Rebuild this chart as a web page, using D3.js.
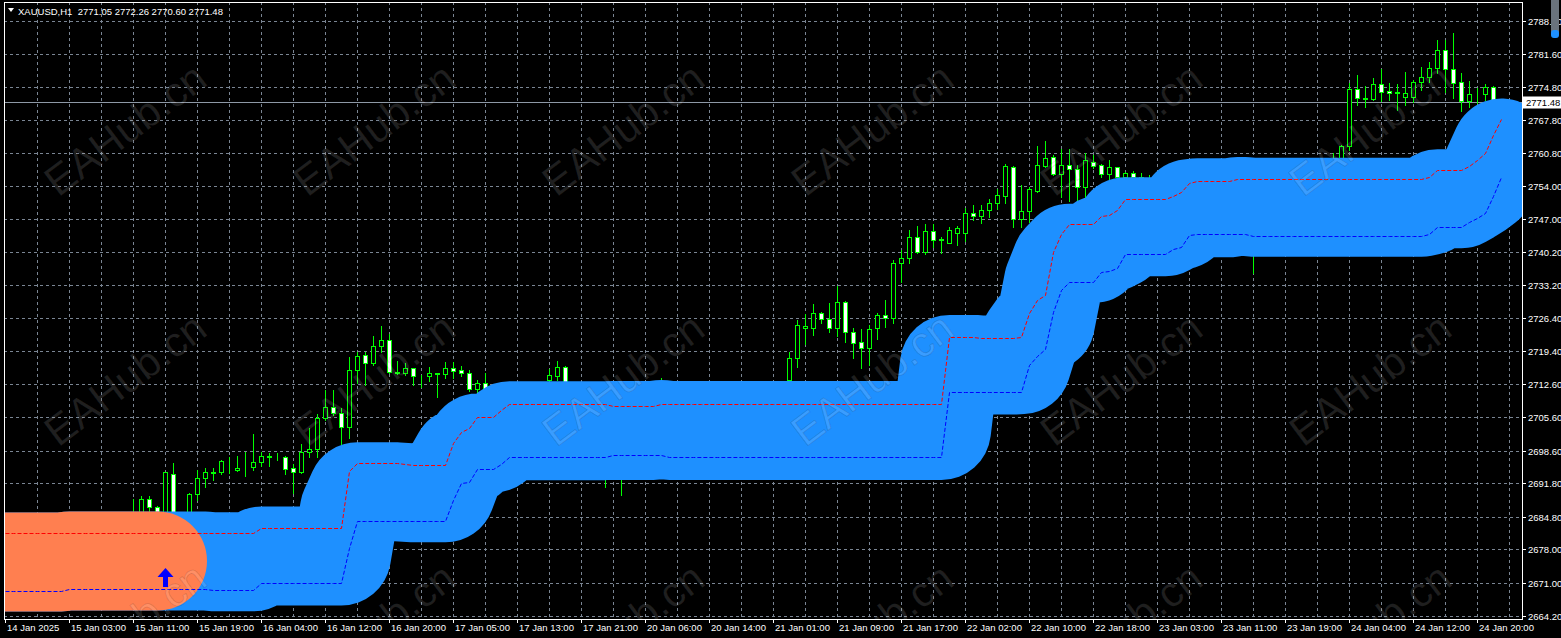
<!DOCTYPE html>
<html>
<head>
<meta charset="utf-8">
<script src="https://cdn.jsdelivr.net/npm/d3@7"></script>
<style>
  html, body { margin: 0; padding: 0; background: #000; overflow: hidden; }
  svg { display: block; }
  text { font-family: "Liberation Sans", Arial, sans-serif; }
</style>
</head>
<body>
<svg id="chart" width="1561" height="638"></svg>
<script>
// ---- data (XAUUSD H1) ----
const symbol = "XAUUSD,H1";
const lastQuote = [2771.05, 2772.26, 2770.60, 2771.48]; // O H L C of current bar
const currentPrice = 2771.48;

const opens = [
  2680.2, 2680.5, 2679.8, 2681.2, 2680.0, 2678.5, 2679.6, 2681.0, 2682.3, 2681.5, 2682.8, 2683.5, 2682.0, 2683.2, 2684.0, 2683.1,
  2684.4, 2685.6, 2688.6, 2686.8, 2684.9, 2693.8, 2685.0, 2684.6, 2689.5, 2692.9, 2694.2, 2694.2, 2696.5, 2694.6, 2695.0, 2695.3,
  2696.3, 2697.5, 2697.3, 2697.4, 2695.0, 2694.2, 2698.4, 2699.0, 2705.5, 2707.8, 2706.5, 2703.6, 2715.5, 2718.6, 2717.0, 2720.5,
  2721.8, 2715.1, 2715.0, 2715.9, 2714.3, 2714.3, 2714.8, 2714.6, 2715.9, 2715.5, 2714.8, 2711.6, 2712.8, 2710.5, 2708.2, 2709.5,
  2710.6, 2711.8, 2710.8, 2712.0, 2713.4, 2714.3, 2716.2, 2711.0, 2709.2, 2706.8, 2704.2, 2701.5, 2697.0, 2698.6, 2696.2, 2699.9,
  2702.7, 2705.1, 2707.6, 2709.8, 2708.4, 2707.0, 2708.1, 2709.9, 2708.8, 2706.7, 2707.6, 2708.9, 2710.2, 2709.4, 2710.7, 2711.9,
  2711.2, 2712.3, 2713.4, 2718.0, 2724.3, 2724.3, 2727.4, 2726.2, 2724.3, 2729.7, 2723.5, 2721.4, 2720.1, 2724.3, 2727.0, 2726.4,
  2737.9, 2738.9, 2743.3, 2740.2, 2744.6, 2742.7, 2742.1, 2744.2, 2744.2, 2748.4, 2747.8, 2749.0, 2750.4, 2752.0, 2758.0, 2747.1,
  2748.8, 2753.0, 2758.2, 2760.0, 2756.5, 2758.4, 2757.6, 2753.8, 2759.0, 2758.4, 2756.5, 2758.0, 2755.9, 2756.7, 2755.9, 2755.2,
  2752.8, 2751.4, 2752.5, 2753.9, 2752.9, 2751.2, 2749.3, 2747.7, 2748.4, 2749.6, 2748.5, 2745.9, 2743.6, 2744.6, 2746.3, 2747.8,
  2749.5, 2750.9, 2751.6, 2753.2, 2754.5, 2755.8, 2756.2, 2758.0, 2762.4, 2774.3, 2772.4, 2772.2, 2775.3, 2773.9, 2773.6, 2772.6,
  2772.6, 2775.7, 2776.8, 2778.7, 2782.4, 2778.5, 2775.7, 2771.8, 2773.2, 2773.2, 2774.7, 2771.05
];
const highs = [
  2681.4, 2681.0, 2682.0, 2681.9, 2680.6, 2680.3, 2681.8, 2683.1, 2682.9, 2683.6, 2684.2, 2684.0, 2683.9, 2684.8, 2684.6, 2685.1,
  2688.6, 2689.2, 2689.2, 2687.0, 2694.3, 2696.1, 2685.5, 2689.9, 2694.6, 2695.0, 2695.0, 2696.7, 2697.3, 2697.5, 2698.4, 2702.1,
  2698.4, 2698.2, 2698.2, 2697.6, 2695.9, 2700.1, 2703.4, 2706.3, 2711.3, 2711.3, 2707.6, 2718.2, 2719.3, 2719.3, 2722.6, 2724.7,
  2723.0, 2717.4, 2717.0, 2715.9, 2714.5, 2716.2, 2714.9, 2717.2, 2717.2, 2716.4, 2715.5, 2713.4, 2715.0, 2712.0, 2710.0, 2711.2,
  2712.5, 2712.8, 2712.6, 2713.1, 2715.7, 2717.4, 2716.4, 2712.4, 2710.5, 2708.0, 2705.6, 2702.4, 2699.8, 2700.2, 2700.8, 2703.5,
  2706.0, 2708.4, 2713.8, 2712.0, 2710.1, 2708.8, 2710.6, 2711.5, 2709.9, 2708.3, 2709.7, 2710.8, 2711.9, 2711.2, 2712.6, 2712.9,
  2712.7, 2713.1, 2719.3, 2726.0, 2727.2, 2729.3, 2727.7, 2729.5, 2733.1, 2729.9, 2724.3, 2724.1, 2724.9, 2727.4, 2730.2, 2738.5,
  2740.6, 2744.8, 2745.6, 2746.1, 2746.1, 2743.3, 2745.4, 2745.6, 2749.4, 2750.0, 2750.0, 2751.3, 2753.4, 2758.6, 2758.2, 2754.2,
  2753.8, 2762.4, 2763.4, 2760.5, 2761.7, 2761.7, 2758.4, 2760.9, 2760.5, 2758.6, 2759.4, 2758.0, 2756.9, 2757.1, 2756.7, 2756.4,
  2754.0, 2753.2, 2754.6, 2755.3, 2754.0, 2752.4, 2750.5, 2749.0, 2750.1, 2751.0, 2749.6, 2747.3, 2745.4, 2747.0, 2748.6, 2750.2,
  2751.8, 2752.7, 2754.0, 2755.1, 2756.3, 2756.9, 2760.9, 2762.6, 2775.5, 2777.2, 2774.9, 2776.6, 2778.5, 2775.5, 2775.3, 2777.8,
  2776.2, 2778.9, 2779.9, 2784.5, 2784.5, 2786.0, 2777.6, 2775.9, 2774.5, 2775.3, 2774.9, 2772.26
];
const lows = [
  2678.9, 2678.6, 2679.1, 2679.3, 2677.4, 2677.9, 2679.0, 2680.4, 2680.7, 2681.0, 2682.1, 2681.4, 2681.6, 2682.7, 2682.4, 2682.8,
  2683.0, 2684.8, 2685.5, 2683.5, 2683.8, 2684.0, 2682.0, 2683.5, 2688.3, 2691.1, 2692.5, 2693.8, 2693.9, 2694.4, 2693.3, 2694.6,
  2695.5, 2695.5, 2696.7, 2693.8, 2689.8, 2694.0, 2697.3, 2697.3, 2705.1, 2706.1, 2700.1, 2701.3, 2712.8, 2712.4, 2716.6, 2719.3,
  2714.9, 2714.7, 2714.5, 2712.4, 2712.0, 2713.2, 2709.9, 2713.9, 2713.9, 2714.2, 2711.1, 2710.7, 2709.0, 2707.5, 2706.8, 2708.0,
  2709.4, 2710.0, 2709.6, 2710.9, 2712.5, 2713.5, 2710.2, 2708.6, 2706.0, 2703.5, 2700.8, 2691.1, 2694.5, 2689.4, 2695.0, 2698.6,
  2701.5, 2704.0, 2706.2, 2707.9, 2706.5, 2705.2, 2707.3, 2708.2, 2705.9, 2705.0, 2706.4, 2707.7, 2709.0, 2708.1, 2709.8, 2710.6,
  2710.1, 2711.4, 2712.0, 2716.2, 2721.0, 2722.8, 2725.4, 2723.5, 2722.6, 2721.4, 2718.0, 2715.9, 2716.6, 2722.0, 2724.5, 2725.4,
  2733.9, 2737.9, 2740.0, 2739.8, 2741.2, 2740.0, 2742.0, 2741.7, 2742.5, 2746.9, 2746.3, 2747.5, 2749.2, 2750.4, 2745.4, 2745.4,
  2746.5, 2752.7, 2758.0, 2756.3, 2751.7, 2750.9, 2751.1, 2751.7, 2757.8, 2755.9, 2755.5, 2755.5, 2754.5, 2754.0, 2753.5, 2752.0,
  2750.6, 2749.8, 2751.6, 2752.2, 2750.5, 2748.6, 2746.8, 2745.5, 2747.2, 2747.9, 2745.0, 2742.8, 2735.8, 2743.5, 2745.1, 2746.9,
  2748.4, 2749.6, 2750.8, 2752.1, 2753.4, 2754.6, 2755.0, 2756.8, 2761.5, 2770.9, 2770.5, 2771.9, 2771.8, 2772.0, 2769.9, 2770.9,
  2771.6, 2774.1, 2775.7, 2777.6, 2773.7, 2772.4, 2769.7, 2770.5, 2771.3, 2772.0, 2770.8, 2770.60
];
const closes = [
  2680.5, 2679.8, 2681.2, 2680.0, 2678.5, 2679.6, 2681.0, 2682.3, 2681.5, 2682.8, 2683.5, 2682.0, 2683.2, 2684.0, 2683.1, 2684.4,
  2685.6, 2688.6, 2686.8, 2684.9, 2694.1, 2685.0, 2684.6, 2689.5, 2692.9, 2694.2, 2694.0, 2696.5, 2696.5, 2695.0, 2695.1, 2696.3,
  2697.5, 2697.3, 2697.4, 2694.8, 2694.2, 2698.4, 2699.0, 2705.5, 2707.8, 2706.5, 2703.6, 2715.5, 2718.4, 2717.0, 2720.5, 2721.8,
  2715.1, 2715.0, 2715.9, 2714.3, 2714.3, 2714.8, 2714.6, 2715.9, 2715.3, 2714.8, 2711.6, 2712.8, 2710.5, 2708.2, 2709.5, 2710.6,
  2711.8, 2710.8, 2712.0, 2713.0, 2714.5, 2716.2, 2711.0, 2709.2, 2706.8, 2704.2, 2701.5, 2697.0, 2698.6, 2696.2, 2699.9, 2702.7,
  2705.1, 2707.6, 2709.8, 2708.4, 2707.0, 2708.1, 2709.9, 2708.8, 2706.7, 2707.6, 2708.9, 2710.2, 2709.4, 2710.7, 2711.9, 2711.2,
  2712.3, 2712.9, 2718.0, 2724.9, 2724.8, 2727.4, 2726.2, 2724.3, 2729.7, 2723.5, 2721.2, 2720.1, 2724.1, 2727.0, 2726.4, 2737.9,
  2738.9, 2743.3, 2740.2, 2744.6, 2742.7, 2742.9, 2744.8, 2745.2, 2748.4, 2747.8, 2749.0, 2750.4, 2752.1, 2758.2, 2747.1, 2748.8,
  2753.4, 2758.4, 2759.9, 2756.5, 2758.4, 2757.6, 2753.8, 2759.4, 2758.2, 2756.5, 2758.0, 2755.9, 2756.7, 2755.9, 2755.2, 2752.8,
  2751.4, 2752.5, 2753.9, 2752.9, 2751.2, 2749.3, 2747.7, 2748.4, 2749.6, 2748.5, 2745.9, 2743.6, 2744.6, 2746.3, 2747.8, 2749.5,
  2750.9, 2751.6, 2753.2, 2754.5, 2755.8, 2756.2, 2758.0, 2762.4, 2774.3, 2772.4, 2772.2, 2775.3, 2773.7, 2773.4, 2773.5, 2773.4,
  2775.7, 2776.8, 2778.7, 2782.4, 2778.5, 2775.5, 2771.8, 2773.2, 2773.3, 2774.7, 2771.1, 2771.48
];

// channel indicator: upper (red dashed) and lower (blue dashed) lines
const upperLine = [
  2681.4, 2681.4, 2681.4, 2681.4, 2681.4, 2681.4, 2681.4, 2681.4, 2681.4, 2681.4, 2681.4, 2681.4, 2681.4, 2681.4, 2681.4, 2681.4,
  2681.4, 2681.4, 2681.4, 2681.4, 2681.4, 2681.4, 2681.4, 2681.4, 2681.4, 2681.4, 2681.4, 2681.4, 2681.4, 2681.4, 2681.4, 2681.4,
  2682.4, 2682.4, 2682.4, 2682.4, 2682.4, 2682.4, 2682.4, 2682.4, 2682.4, 2682.4, 2682.4, 2694.4, 2696.1, 2696.1, 2696.1, 2696.1,
  2696.1, 2696.1, 2695.9, 2695.7, 2695.7, 2695.7, 2695.7, 2695.7, 2700.3, 2702.6, 2703.4, 2705.7, 2705.7, 2705.7, 2707.2, 2708.4,
  2708.4, 2708.4, 2708.4, 2708.4, 2708.4, 2708.4, 2708.4, 2708.4, 2708.4, 2708.4, 2708.4, 2708.4, 2708.1, 2708.1, 2708.1, 2708.1,
  2708.1, 2708.1, 2708.5, 2708.5, 2708.5, 2708.5, 2708.5, 2708.5, 2708.5, 2708.5, 2708.5, 2708.5, 2708.5, 2708.5, 2708.5, 2708.5,
  2708.5, 2708.5, 2708.5, 2708.5, 2708.5, 2708.5, 2708.5, 2708.5, 2708.5, 2708.5, 2708.5, 2708.5, 2708.5, 2708.5, 2708.5, 2708.5,
  2708.5, 2708.5, 2708.5, 2708.5, 2708.5, 2708.5, 2722.5, 2722.5, 2722.5, 2722.5, 2722.2, 2722.2, 2722.2, 2722.2, 2722.2, 2722.4,
  2727.4, 2730.2, 2731.2, 2740.2, 2744.0, 2746.0, 2746.0, 2746.0, 2746.0, 2747.7, 2748.0, 2749.0, 2751.3, 2751.3, 2751.3, 2751.3,
  2751.3, 2751.3, 2752.0, 2752.7, 2754.7, 2755.0, 2755.0, 2755.0, 2755.0, 2755.0, 2755.5, 2755.5, 2755.5, 2755.5, 2755.5, 2755.5,
  2755.5, 2755.5, 2755.5, 2755.5, 2755.5, 2755.5, 2755.5, 2755.5, 2755.5, 2755.5, 2755.5, 2755.5, 2755.5, 2755.5, 2755.5, 2755.5,
  2755.5, 2755.5, 2755.8, 2757.3, 2757.3, 2757.3, 2757.3, 2758.2, 2759.4, 2760.8, 2764.7, 2768.0
];
const lowerLine = [
  2669.4, 2669.4, 2669.4, 2669.4, 2669.4, 2669.4, 2669.4, 2669.4, 2669.8, 2669.8, 2669.8, 2669.8, 2669.8, 2669.8, 2669.8, 2669.8,
  2669.8, 2669.8, 2669.8, 2669.8, 2669.8, 2669.8, 2669.8, 2669.8, 2669.8, 2669.8, 2669.5, 2669.5, 2669.5, 2669.5, 2669.5, 2669.5,
  2670.9, 2670.9, 2670.9, 2670.9, 2670.9, 2670.9, 2670.9, 2670.9, 2670.9, 2670.9, 2670.9, 2678.3, 2684.0, 2684.0, 2684.0, 2684.0,
  2684.0, 2684.0, 2684.0, 2684.0, 2684.0, 2684.0, 2684.0, 2684.0, 2688.3, 2691.9, 2692.1, 2694.8, 2694.8, 2694.8, 2695.9, 2697.3,
  2697.3, 2697.3, 2697.3, 2697.3, 2697.3, 2697.3, 2697.3, 2697.3, 2697.3, 2697.3, 2697.3, 2697.3, 2697.7, 2697.7, 2697.7, 2697.7,
  2697.7, 2697.7, 2697.7, 2697.3, 2697.3, 2697.3, 2697.3, 2697.3, 2697.3, 2697.3, 2697.3, 2697.3, 2697.3, 2697.3, 2697.3, 2697.3,
  2697.3, 2697.3, 2697.3, 2697.3, 2697.3, 2697.3, 2697.3, 2697.3, 2697.3, 2697.3, 2697.3, 2697.3, 2697.3, 2697.3, 2697.3, 2697.3,
  2697.3, 2697.3, 2697.3, 2697.3, 2697.3, 2697.3, 2710.9, 2710.9, 2710.9, 2710.9, 2710.9, 2710.9, 2710.9, 2710.9, 2710.9, 2710.9,
  2716.6, 2718.5, 2719.9, 2727.7, 2732.3, 2733.9, 2733.9, 2733.9, 2733.9, 2736.0, 2736.2, 2736.9, 2739.7, 2739.7, 2739.7, 2739.7,
  2739.7, 2739.7, 2740.9, 2741.2, 2743.8, 2743.9, 2743.9, 2743.9, 2743.9, 2743.9, 2743.9, 2743.9, 2743.6, 2743.6, 2743.6, 2743.6,
  2743.6, 2743.6, 2743.6, 2743.6, 2743.6, 2743.6, 2743.6, 2743.6, 2743.6, 2743.6, 2743.6, 2743.6, 2743.6, 2743.6, 2743.6, 2743.6,
  2743.6, 2743.6, 2744.0, 2745.4, 2745.4, 2745.4, 2745.4, 2746.4, 2747.3, 2748.4, 2751.9, 2755.9
];
const trendFlipBar = 20;      // band is orange (down) before this bar, blue after
const arrowPrice = 2674.1;    // buy arrow drawn at the flip bar

const priceTicks = [2788.60, 2781.60, 2774.80, 2767.80, 2760.80, 2754.00, 2747.00, 2740.20, 2733.20, 2726.40,
  2719.40, 2712.60, 2705.60, 2698.60, 2691.80, 2684.80, 2678.00, 2671.00, 2664.20];
const timeLabels = ["14 Jan 2025", "15 Jan 03:00", "15 Jan 11:00", "15 Jan 19:00", "16 Jan 04:00", "16 Jan 12:00",
  "16 Jan 20:00", "17 Jan 05:00", "17 Jan 13:00", "17 Jan 21:00", "20 Jan 06:00", "20 Jan 14:00", "21 Jan 01:00",
  "21 Jan 09:00", "21 Jan 17:00", "22 Jan 02:00", "22 Jan 10:00", "22 Jan 18:00", "23 Jan 03:00", "23 Jan 11:00",
  "23 Jan 19:00", "24 Jan 04:00", "24 Jan 12:00", "24 Jan 20:00"];
const barsPerLabel = 8;
const barsPerGrid = 4;

// ---- layout ----
const W = 1561, H = 638;
const plot = { left: 4, top: 2, right: 1522, bottom: 619 };
const svg = d3.select('#chart');

const x = d3.scaleLinear().domain([0, 189.625]).range([5, 1522]);
const y = d3.scaleLinear().domain([2664.2, 2788.6]).range([615.5, 20.5]);
const px = i => Math.round(x(i)) + 0.5;
const py = v => Math.round(y(v)) + 0.5;

svg.append('rect').attr('width', W).attr('height', H).attr('fill', '#000');

svg.append('clipPath').attr('id', 'plotClip')
  .append('rect')
  .attr('x', plot.left + 1).attr('y', plot.top + 1)
  .attr('width', plot.right - plot.left - 1).attr('height', plot.bottom - plot.top - 1);

const g = svg.append('g').attr('clip-path', 'url(#plotClip)');

// grid
const gridColor = '#7a8593';
g.append('g').selectAll('line').data(priceTicks).join('line')
  .attr('x1', plot.left).attr('x2', plot.right)
  .attr('y1', d => py(d)).attr('y2', d => py(d))
  .attr('stroke', gridColor).attr('stroke-dasharray', '3,3');
const gridBars = d3.range(barsPerGrid, 190, barsPerGrid);
g.append('g').selectAll('line').data(gridBars).join('line')
  .attr('x1', d => px(d)).attr('x2', d => px(d))
  .attr('y1', plot.top).attr('y2', plot.bottom)
  .attr('stroke', gridColor).attr('stroke-dasharray', '3,3');

// current price line (under the band)
g.append('line')
  .attr('x1', plot.left).attr('x2', plot.right)
  .attr('y1', py(currentPrice)).attr('y2', py(currentPrice))
  .attr('stroke', '#8e99a6');

// candles
const bars = opens.map((o, i) => ({ i, o, h: highs[i], l: lows[i], c: closes[i] }));
const green = '#00ff00';
g.append('g').selectAll('line').data(bars).join('line')
  .attr('x1', d => px(d.i)).attr('x2', d => px(d.i))
  .attr('y1', d => Math.round(y(d.h))).attr('y2', d => Math.round(y(d.l)) + 1)
  .attr('stroke', green);
g.append('g').selectAll('rect').data(bars).join('rect')
  .attr('x', d => px(d.i) - 2).attr('width', 4)
  .attr('y', d => py(Math.max(d.o, d.c)))
  .attr('height', d => Math.max(0, Math.round(y(Math.min(d.o, d.c))) - Math.round(y(Math.max(d.o, d.c)))))
  .attr('fill', d => d.c > d.o ? '#000' : '#fff')
  .attr('stroke', green);

// thick channel band
const mid = opens.map((_, i) => ({ i, v: (upperLine[i] + lowerLine[i]) / 2 }));
const bandLine = d3.line().x(d => px(d.i)).y(d => y(d.v));
g.append('path').datum(mid)
  .attr('d', bandLine)
  .attr('fill', 'none').attr('stroke', '#1e90ff')
  .attr('stroke-width', 99).attr('stroke-linejoin', 'round').attr('stroke-linecap', 'round');
g.append('path').datum(mid.filter(d => d.i < trendFlipBar))
  .attr('d', bandLine)
  .attr('fill', 'none').attr('stroke', '#ff7f50')
  .attr('stroke-width', 99).attr('stroke-linejoin', 'round').attr('stroke-linecap', 'round');

// dashed channel lines
const dashLine = d3.line().x((d, i) => px(i)).y(d => py(d));
g.append('path').datum(upperLine).attr('d', dashLine)
  .attr('fill', 'none').attr('stroke', '#ff0000').attr('stroke-dasharray', '4,2');
g.append('path').datum(lowerLine).attr('d', dashLine)
  .attr('fill', 'none').attr('stroke', '#0000ff').attr('stroke-dasharray', '4,2');

// buy arrow
g.append('path')
  .attr('transform', `translate(${px(trendFlipBar)},${Math.round(y(arrowPrice))})`)
  .attr('d', 'M0,0 L-8,9 L-2.5,9 L-2.5,19 L2.5,19 L2.5,9 L8,9 Z')
  .attr('fill', '#0000ff');

// watermark
const wm = g.append('g');
for (let r = 0; r < 3; r++) {
  for (let c = 0; c < 6; c++) {
    wm.append('text')
      .attr('transform', `translate(${125 + 249 * c},${129 + 250 * r}) rotate(-37)`)
      .attr('text-anchor', 'middle').attr('dy', '0.35em')
      .attr('font-size', 42)
      .attr('fill', 'rgba(255,255,255,0.13)')
      .attr('stroke', 'rgba(0,0,0,0.12)').attr('stroke-width', 1)
      .text('EAHub.cn');
  }
}

// frame
svg.append('rect')
  .attr('x', plot.left + 0.5).attr('y', plot.top + 0.5)
  .attr('width', plot.right - plot.left).attr('height', plot.bottom - plot.top)
  .attr('fill', 'none').attr('stroke', '#fff');

// price axis
const pa = svg.append('g');
pa.selectAll('line').data(priceTicks).join('line')
  .attr('x1', plot.right + 1).attr('x2', plot.right + 4)
  .attr('y1', d => py(d)).attr('y2', d => py(d))
  .attr('stroke', '#fff');
pa.selectAll('text').data(priceTicks).join('text')
  .attr('x', plot.right + 6).attr('y', d => py(d) + 3.5)
  .attr('fill', '#fff').attr('font-size', 9.5)
  .text(d => d.toFixed(2));

// current price label
svg.append('rect')
  .attr('x', plot.right + 1).attr('y', py(currentPrice) - 6)
  .attr('width', W - plot.right - 1).attr('height', 12)
  .attr('fill', '#fff');
svg.append('text')
  .attr('x', plot.right + 4).attr('y', py(currentPrice) + 3.5)
  .attr('fill', '#000').attr('font-size', 9.5)
  .text(currentPrice.toFixed(2));

// time axis
const ta = svg.append('g');
ta.selectAll('line').data(timeLabels).join('line')
  .attr('x1', (d, k) => px(k * barsPerLabel)).attr('x2', (d, k) => px(k * barsPerLabel))
  .attr('y1', plot.bottom + 1).attr('y2', plot.bottom + 4)
  .attr('stroke', '#fff');
ta.selectAll('text').data(timeLabels).join('text')
  .attr('x', (d, k) => px(k * barsPerLabel) + 1.5).attr('y', plot.bottom + 12)
  .attr('fill', '#fff').attr('font-size', 9.5)
  .text(d => d);

// header
svg.append('path').attr('d', 'M8,8 L14,8 L11,12 Z').attr('fill', '#fff');
svg.append('text')
  .attr('x', 18).attr('y', 15)
  .attr('fill', '#fff').attr('font-size', 9.5)
  .attr('xml:space', 'preserve')
  .text(symbol + '  ' + lastQuote.map(v => v.toFixed(2)).join(' '));

// top-right scroll gadget
svg.append('rect').attr('x', 1551).attr('y', -4).attr('width', 8).attr('height', 38).attr('rx', 3)
  .attr('fill', '#6a737d');
svg.append('rect').attr('x', 1551).attr('y', 30).attr('width', 8).attr('height', 8).attr('rx', 3)
  .attr('fill', '#1e90ff');
</script>
</body>
</html>
